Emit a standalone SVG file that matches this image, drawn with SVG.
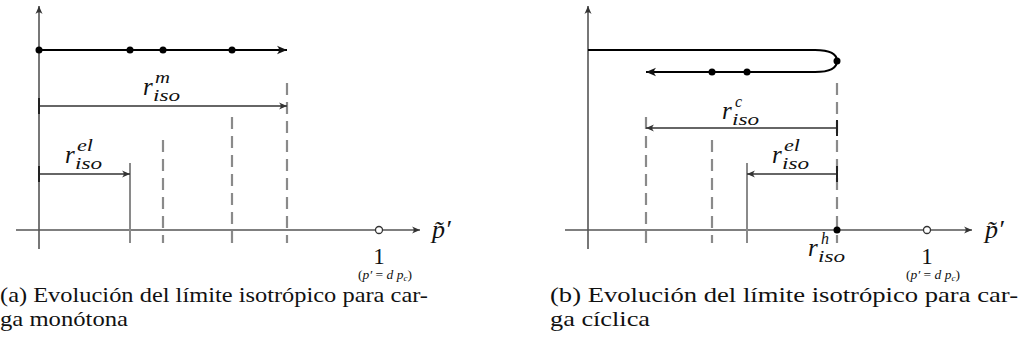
<svg xmlns="http://www.w3.org/2000/svg" width="1021" height="351" viewBox="0 0 1021 351">
<style>
.ax{stroke:#555;stroke-width:1.6;fill:none}
.traj{stroke:#000;stroke-width:2;fill:none}
.dim{stroke:#333;stroke-width:1.3;fill:none}
.tick{stroke:#222;stroke-width:2}
.dash{stroke:#8a8a8a;stroke-width:2.2;stroke-dasharray:12,7;fill:none}
.sol{stroke:#8a8a8a;stroke-width:2;fill:none}
.dot{fill:#000}
.open{fill:#fff;stroke:#333;stroke-width:1.3}
text{font-family:"Liberation Serif","Times New Roman",serif;fill:#111}
.m{font-style:italic}
.r{font-size:25px}
.s{font-size:16px}
.cap{font-size:22px}
</style>
<defs>
<marker id="ah" markerWidth="13" markerHeight="10" refX="11" refY="5" orient="auto" markerUnits="userSpaceOnUse">
<path d="M11,5 L1,0.8 Q5,5 1,9.2 Z" fill="#111"/>
</marker>
<marker id="ahs" markerWidth="12" markerHeight="10" refX="10" refY="5" orient="auto" markerUnits="userSpaceOnUse">
<path d="M10,5 L2,1.5 Q5.5,5 2,8.5 Z" fill="#333"/>
</marker>
</defs>

<g id="panel-a">
<g id="a-axes">
<line class="ax" x1="39" y1="249" x2="39" y2="6" marker-end="url(#ahs)"/>
<line class="ax" x1="16" y1="230" x2="420" y2="230" marker-end="url(#ahs)"/>
</g>
<g id="a-verticals">
<line class="dash" x1="287" y1="83" x2="287" y2="243"/>
<line class="dash" x1="232" y1="117" x2="232" y2="243"/>
<line class="dash" x1="163" y1="140" x2="163" y2="243"/>
<line class="sol" x1="130" y1="163" x2="130" y2="243"/>
</g>
<g id="a-trajectory">
<line class="traj" x1="39" y1="50" x2="287" y2="50" marker-end="url(#ah)"/>
<circle class="dot" cx="39" cy="50" r="3.5"/>
<circle class="dot" cx="130" cy="50" r="3.5"/>
<circle class="dot" cx="163" cy="50" r="3.5"/>
<circle class="dot" cx="232" cy="50" r="3.5"/>
</g>
<g id="a-rm">
<line class="dim" x1="39" y1="106" x2="287" y2="106" marker-end="url(#ahs)"/>
<line class="tick" x1="39" y1="98" x2="39" y2="114"/>
<text class="m r" x="143" y="95">r</text>
<text class="m s" x="155" y="83" textLength="15" lengthAdjust="spacingAndGlyphs">m</text>
<text class="m s" x="153" y="101" textLength="27" lengthAdjust="spacingAndGlyphs">iso</text>
</g>
<g id="a-rel">
<line class="dim" x1="39" y1="174" x2="130" y2="174" marker-end="url(#ahs)"/>
<line class="tick" x1="39" y1="166" x2="39" y2="182"/>
<text class="m r" x="65" y="163">r</text>
<text class="m s" x="77" y="151" textLength="16" lengthAdjust="spacingAndGlyphs">el</text>
<text class="m s" x="75" y="169" textLength="27" lengthAdjust="spacingAndGlyphs">iso</text>
</g>
<g id="a-one">
<circle class="open" cx="379" cy="230" r="3.5"/>
<text x="379" y="264" font-size="23" text-anchor="middle">1</text>
<text class="m" x="385" y="279" font-size="13.5" text-anchor="middle"><tspan font-style="normal">(</tspan>p′ <tspan font-style="normal">=</tspan> d p<tspan font-size="9" dy="2">c</tspan><tspan font-style="normal" dy="-2">)</tspan></text>
</g>
<text id="a-plabel" class="m" x="432" y="238" font-size="26">p̃′</text>
<text class="cap" x="0" y="302" textLength="428" lengthAdjust="spacingAndGlyphs">(a) Evolución del límite isotrópico para car-</text>
<text class="cap" x="0" y="326" textLength="128" lengthAdjust="spacingAndGlyphs">ga monótona</text>
</g>

<g id="panel-b">
<g id="b-axes">
<line class="ax" x1="588" y1="249" x2="588" y2="6" marker-end="url(#ahs)"/>
<line class="ax" x1="565" y1="230" x2="972" y2="230" marker-end="url(#ahs)"/>
</g>
<g id="b-verticals">
<line class="dash" x1="837" y1="83" x2="837" y2="243"/>
<line class="dash" x1="646" y1="117" x2="646" y2="243"/>
<line class="dash" x1="712" y1="140" x2="712" y2="243"/>
<line class="sol" x1="747" y1="163" x2="747" y2="243"/>
</g>
<g id="b-trajectory">
<path class="traj" d="M588,50 H815 C830,50 837,54 837,61 C837,68 830,72 815,72 H646" marker-end="url(#ah)"/>
<circle class="dot" cx="837" cy="61" r="3.5"/>
<circle class="dot" cx="712" cy="72" r="3.5"/>
<circle class="dot" cx="747" cy="72" r="3.5"/>
</g>
<g id="b-rc">
<line class="dim" x1="837" y1="128" x2="646" y2="128" marker-end="url(#ahs)"/>
<line class="tick" x1="837" y1="120" x2="837" y2="136"/>
<text class="m r" x="722" y="119">r</text>
<text class="m s" x="735" y="107">c</text>
<text class="m s" x="732" y="125" textLength="27" lengthAdjust="spacingAndGlyphs">iso</text>
</g>
<g id="b-rel">
<line class="dim" x1="837" y1="174" x2="747" y2="174" marker-end="url(#ahs)"/>
<line class="tick" x1="837" y1="166" x2="837" y2="182"/>
<text class="m r" x="772" y="163">r</text>
<text class="m s" x="784" y="151" textLength="16" lengthAdjust="spacingAndGlyphs">el</text>
<text class="m s" x="782" y="169" textLength="27" lengthAdjust="spacingAndGlyphs">iso</text>
</g>
<g id="b-rh">
<circle class="dot" cx="837" cy="230" r="3.5"/>
<text class="m r" x="808" y="256">r</text>
<text class="m s" x="821" y="244">h</text>
<text class="m s" x="818" y="262" textLength="27" lengthAdjust="spacingAndGlyphs">iso</text>
</g>
<g id="b-one">
<circle class="open" cx="927" cy="230" r="3.5"/>
<text x="927" y="264" font-size="23" text-anchor="middle">1</text>
<text class="m" x="933" y="279" font-size="13.5" text-anchor="middle"><tspan font-style="normal">(</tspan>p′ <tspan font-style="normal">=</tspan> d p<tspan font-size="9" dy="2">c</tspan><tspan font-style="normal" dy="-2">)</tspan></text>
</g>
<text id="b-plabel" class="m" x="985" y="238" font-size="26">p̃′</text>
<text class="cap" x="550" y="302" textLength="468" lengthAdjust="spacingAndGlyphs">(b) Evolución del límite isotrópico para car-</text>
<text class="cap" x="550" y="326" textLength="100" lengthAdjust="spacingAndGlyphs">ga cíclica</text>
</g>
</svg>
